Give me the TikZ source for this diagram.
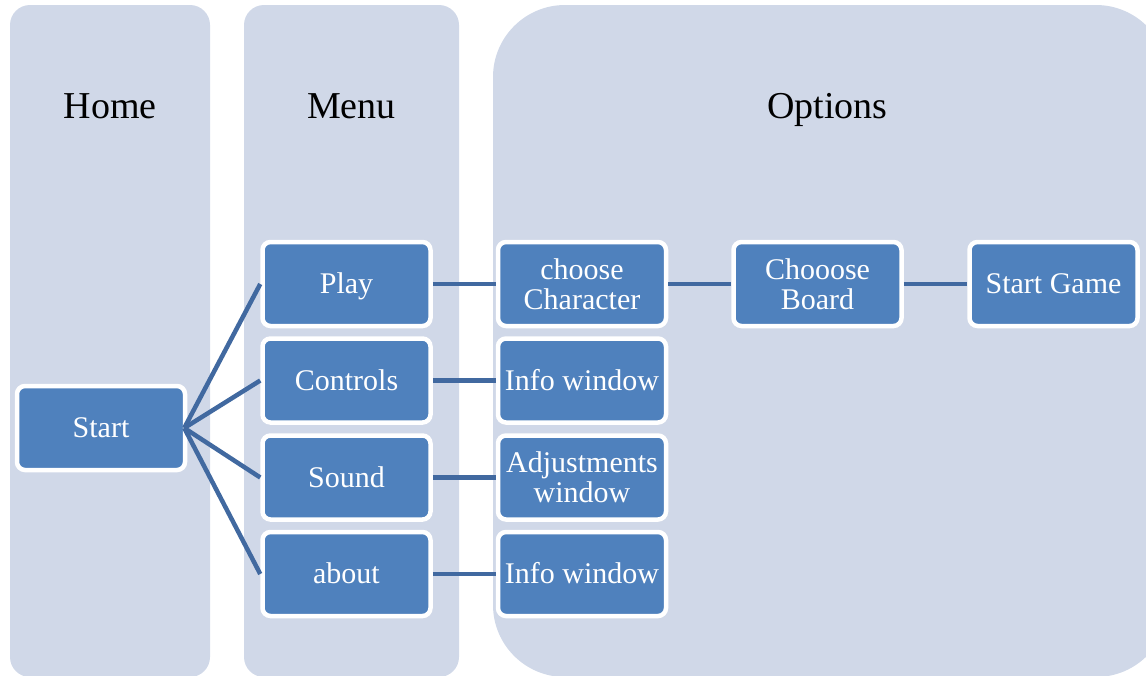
\documentclass[tikz,border=0pt]{standalone}
\usepackage{fontspec}
\setmainfont{Liberation Serif}
\definecolor{panelc}{HTML}{D0D8E8}
\definecolor{boxc}{HTML}{4F81BD}
\definecolor{linkc}{HTML}{4169A0}
\begin{document}
\begin{tikzpicture}[x=1pt,y=-1pt,
  paneltitle/.style={font=\fontsize{38}{38}\selectfont, text=black, anchor=base, inner sep=0pt},
  itembox/.style={rectangle, rounded corners=8pt, fill=boxc, draw=white, line width=4.5pt,
    minimum width=168pt, minimum height=84pt, inner sep=0pt, text=white, align=center,
    font=\fontsize{30}{30}\selectfont},
  oneline/.style={text height=21pt, text depth=2pt},
  linkline/.style={draw=linkc, line width=4.5pt}]
\useasboundingbox (0,0) rectangle (1146,675);
% panels
\fill[panelc, rounded corners=20pt] (10,5) rectangle (210,677);
\fill[panelc, rounded corners=20pt] (244,5) rectangle (459,677);
\fill[panelc, rounded corners=72pt] (493,5) rectangle (1168,677);
% titles
\node[paneltitle] (home) at (110,118) {Home};
\node[paneltitle] (menu) at (351.5,118) {Menu};
\node[paneltitle] (options) at (827.5,118) {Options};
% boxes
\node[itembox, oneline] (start) at (101,428) {Start};
\node[itembox, oneline] (play) at (346.5,284) {Play};
\node[itembox, oneline] (controls) at (346.5,380.5) {Controls};
\node[itembox, oneline] (sound) at (346.5,477.5) {Sound};
\node[itembox, oneline] (about) at (346.5,574) {about};
\node[itembox] (character) at (582,284) {choose\\Character};
\node[itembox, oneline] (info1) at (582,380.5) {Info window};
\node[itembox] (adjust) at (582,477.5) {Adjustments\\window};
\node[itembox, oneline] (info2) at (582,574) {Info window};
\node[itembox] (board) at (817.5,284) {Chooose\\Board};
\node[itembox, oneline] (game) at (1053.5,284) {Start Game};
% connectors
\foreach \t in {play,controls,sound,about}
  \draw[linkline] ([xshift=-3pt]start.east) -- (\t.west);
\draw[linkline] (play.east) -- (character.west);
\draw[linkline] (controls.east) -- (info1.west);
\draw[linkline] (sound.east) -- (adjust.west);
\draw[linkline] (about.east) -- (info2.west);
\draw[linkline] (character.east) -- (board.west);
\draw[linkline] (board.east) -- (game.west);
\end{tikzpicture}
\end{document}
